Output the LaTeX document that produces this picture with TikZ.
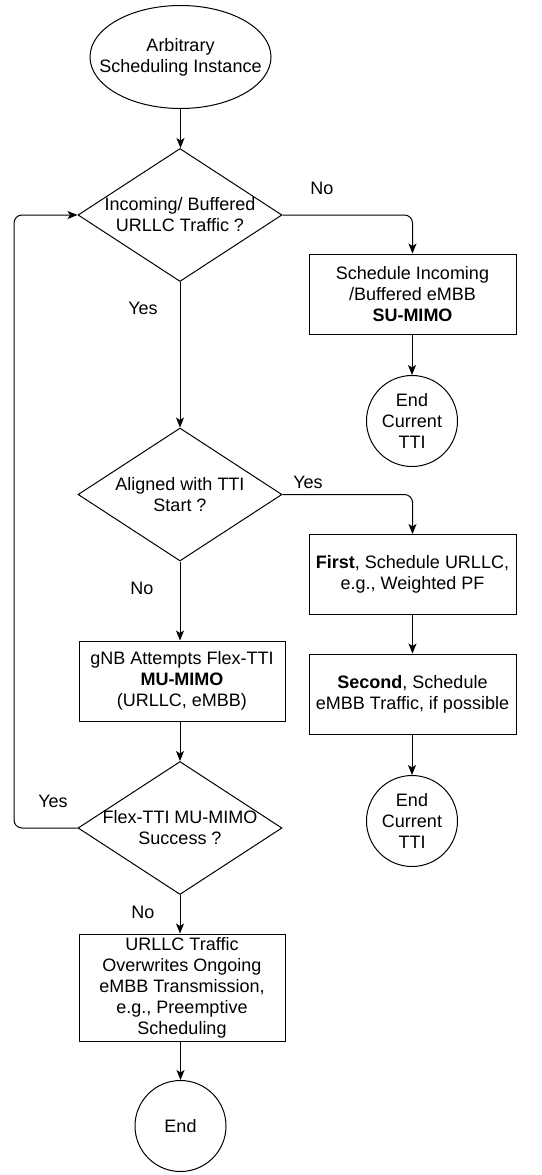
\documentclass[tikz,border=0pt]{standalone}
\usepackage{fontspec}
\setmainfont{Liberation Sans}
\usetikzlibrary{arrows.meta,positioning,shapes.geometric}

\begin{document}
\begin{tikzpicture}[
  x=1pt, y=-1pt,
  every node/.style={font=\fontsize{18}{21}\selectfont, align=center},
  startend/.style={draw, ellipse, line width=1pt, minimum width=181pt, minimum height=103pt, inner sep=0pt},
  stopnode/.style={draw, circle, line width=1pt, minimum size=91pt, inner sep=0pt},
  decision/.style={draw, diamond, line width=1pt, minimum width=204pt, minimum height=133pt, inner sep=0pt},
  procbox/.style={draw, rectangle, line width=1pt, minimum width=207pt, minimum height=80pt, inner sep=0pt},
  flow/.style={-{Stealth[length=10pt,width=8pt,inset=2.5pt]}, line width=1pt},
  lbl/.style={inner sep=0pt}
]
\useasboundingbox (0,0) rectangle (541,1175);
% main column
\node[startend, label={center:Arbitrary\\Scheduling Instance}] (start) at (180.5,57) {};
\node[decision, label={center:Incoming/ Buffered\\URLLC Traffic ?}] (urllc) at (180,215) {};
\node[decision, label={center:Aligned with TTI\\Start ?}] (aligned) at (180,494.5) {};
\node[procbox, minimum width=206pt] (flex) at (182,681) {gNB Attempts Flex-TTI\\\textbf{MU-MIMO}\\(URLLC, eMBB)};
\node[decision, label={center:Flex-TTI MU-MIMO\\Success ?}] (success) at (180,828) {};
\node[procbox, minimum width=206pt, minimum height=107pt] (preempt) at (182,987.5) {URLLC Traffic\\Overwrites Ongoing\\eMBB Transmission,\\e.g., Preemptive\\Scheduling};
\node[stopnode] (finish) at (180.5,1126) {End};
% right column
\node[procbox] (embb) at (412.5,294) {Schedule Incoming\\/Buffered eMBB\\\textbf{SU-MIMO}};
\node[stopnode] (endtti) at (412,421) {End\\Current\\TTI};
\node[procbox] (first) at (412.5,574.5) {\textbf{First}, Schedule URLLC,\\e.g., Weighted PF};
\node[procbox] (second) at (412.5,694) {\textbf{Second}, Schedule\\eMBB Traffic, if possible};
\node[stopnode] (endtti2) at (412,821) {End\\Current\\TTI};
% arrows
\draw[flow] (start.south) -- (start.south |- urllc.north);
\draw[flow] (urllc.south) -- (urllc.south |- aligned.north);
\draw[flow] (aligned.south) -- (aligned.south |- flex.north);
\draw[flow] (flex.south -| success.north) -- (success.north);
\draw[flow] (success.south) -- (success.south |- preempt.north);
\draw[flow] (preempt.south -| finish.north) -- (finish.north);
\draw[flow, rounded corners=8pt] (urllc.east) -| (embb.north);
\draw[flow] (embb.south -| endtti.north) -- (endtti.north);
\draw[flow, rounded corners=8pt] (aligned.east) -| (first.north);
\draw[flow] (first.south) -- (second.north);
\draw[flow] (second.south -| endtti2.north) -- (endtti2.north);
% loop back
\coordinate (loopturn) at (14,828);
\draw[flow, rounded corners=8pt] (success.west) -- (loopturn) |- (urllc.west);
% branch labels
\node[lbl] (no1) at (322,188) {No};
\node[lbl] (yes1) at (143,308) {Yes};
\node[lbl] (yes2) at (308,482) {Yes};
\node[lbl] (no2) at (142,588) {No};
\node[lbl] (yes3) at (53,801) {Yes};
\node[lbl] (no3) at (143,912) {No};
\end{tikzpicture}
\end{document}
